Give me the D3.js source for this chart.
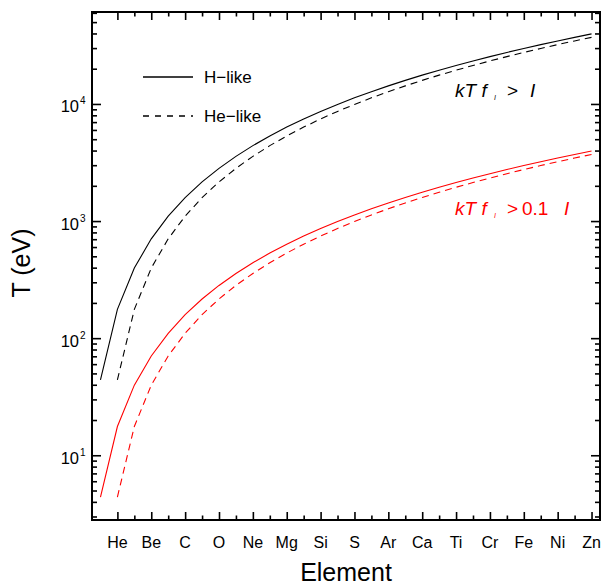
<!DOCTYPE html>
<html>
<head>
<meta charset="utf-8">
<script src="https://cdn.jsdelivr.net/npm/d3@7"></script>
<style>
  body { margin: 0; background: #fff; }
  svg { display: block; font-family: "Liberation Sans", Arial, Helvetica, sans-serif; }
</style>
</head>
<body>
<svg id="chart" width="613" height="585"></svg>
<script>
// ---- data ----
const elementLabels = ["He","Be","C","O","Ne","Mg","Si","S","Ar","Ca","Ti","Cr","Fe","Ni","Zn"];
const elementZ = [2,4,6,8,10,12,14,16,18,20,22,24,26,28,30];
const zH = d3.range(1, 31);   // Z = 1..30
const zHe = d3.range(2, 31);  // Z = 2..30
const hLike = [44,176,397,705,1101,1586,2159,2820,3569,4406,5331,6345,7446,8636,9914,11279,12733,14275,15906,17624,19430,21325,23308,25379,27538,29785,32120,34543,37055,39654];
const heLike = [44,176,397,705,1101,1586,2159,2820,3569,4406,5331,6345,7446,8636,9914,11279,12733,14275,15906,17624,19430,21325,23308,25379,27538,29785,32120,34543,37055];
const hLikeTenth = [4.4,17.6,39.7,70.5,110,159,216,282,357,441,533,635,745,864,991,1128,1273,1428,1591,1762,1943,2133,2331,2538,2754,2979,3212,3454,3706,3965];
const heLikeTenth = [4.4,17.6,39.7,70.5,110,159,216,282,357,441,533,635,745,864,991,1128,1273,1428,1591,1762,1943,2133,2331,2538,2754,2979,3212,3454,3706];
const yMajorExp = [1,2,3,4];

// ---- layout ----
const L = 92, R = 600, T = 12, B = 520;
const svg = d3.select("#chart");
const x = d3.scaleLinear().domain([0.5, 30.5]).range([L, R]);
const y = d3.scaleLog().domain([2.8, 61000]).range([B, T]);

// ---- curves ----
const line = d3.line().x(d => x(d[0])).y(d => y(d[1]));
const series = [
  {z: zH,  v: hLike,       color: "#000", dash: null},
  {z: zHe, v: heLike,      color: "#000", dash: "7,5"},
  {z: zH,  v: hLikeTenth,  color: "#ff0000", dash: null},
  {z: zHe, v: heLikeTenth, color: "#ff0000", dash: "7,5"}
];
series.forEach(s => {
  svg.append("path")
    .datum(s.z.map((z, i) => [z, s.v[i]]))
    .attr("d", line)
    .attr("fill", "none")
    .attr("stroke", s.color)
    .attr("stroke-width", 1.1)
    .attr("stroke-dasharray", s.dash);
});

// ---- axes (ticks pointing inward) ----
const minorZ = d3.range(3, 30, 2);
const yMinor = [];
for (let e = 0; e <= 4; e++) for (let m = 2; m <= 9; m++) {
  const v = m * Math.pow(10, e);
  if (v >= 2.8 && v <= 61000) yMinor.push(v);
}
const yMajor = yMajorExp.map(e => Math.pow(10, e));

function styleAxis(g) {
  g.select(".domain").remove();
  g.selectAll(".tick line").attr("stroke", "#000").attr("stroke-width", 1.6);
  g.selectAll(".tick text").remove();
}
// bottom
svg.append("g").attr("transform", `translate(0,${B})`)
  .call(d3.axisBottom(x).tickValues(elementZ).tickSize(-8)).call(styleAxis);
svg.append("g").attr("transform", `translate(0,${B})`)
  .call(d3.axisBottom(x).tickValues(minorZ).tickSize(-4.5)).call(styleAxis);
// top
svg.append("g").attr("transform", `translate(0,${T})`)
  .call(d3.axisTop(x).tickValues(elementZ).tickSize(-8)).call(styleAxis);
svg.append("g").attr("transform", `translate(0,${T})`)
  .call(d3.axisTop(x).tickValues(minorZ).tickSize(-4.5)).call(styleAxis);
// left
svg.append("g").attr("transform", `translate(${L},0)`)
  .call(d3.axisLeft(y).tickValues(yMajor).tickSize(-9)).call(styleAxis);
svg.append("g").attr("transform", `translate(${L},0)`)
  .call(d3.axisLeft(y).tickValues(yMinor).tickSize(-5)).call(styleAxis);
// right
svg.append("g").attr("transform", `translate(${R},0)`)
  .call(d3.axisRight(y).tickValues(yMajor).tickSize(-9)).call(styleAxis);
svg.append("g").attr("transform", `translate(${R},0)`)
  .call(d3.axisRight(y).tickValues(yMinor).tickSize(-5)).call(styleAxis);

// frame
svg.append("rect").attr("x", L).attr("y", T).attr("width", R - L).attr("height", B - T)
  .attr("fill", "none").attr("stroke", "#000").attr("stroke-width", 2);

// x tick labels
svg.append("g").selectAll("text").data(elementLabels).join("text")
  .attr("x", (d, i) => x(elementZ[i]))
  .attr("y", 548)
  .attr("text-anchor", "middle")
  .attr("font-size", 16)
  .text(d => d);

// y tick labels 10^n
yMajorExp.forEach(e => {
  svg.append("text")
    .attr("x", 79).attr("y", y(Math.pow(10, e)) + 8.5)
    .attr("text-anchor", "end")
    .attr("font-size", 16.5)
    .text("10");
  svg.append("text")
    .attr("x", 80).attr("y", y(Math.pow(10, e)) + 0.5)
    .attr("font-size", 10)
    .text(e);
});

// axis titles
svg.append("text").attr("x", (L + R) / 2).attr("y", 581)
  .attr("text-anchor", "middle").attr("font-size", 25).text("Element");
svg.append("text")
  .attr("transform", `translate(30,${(T + B) / 2 - 3}) rotate(-90)`)
  .attr("text-anchor", "middle").attr("font-size", 25).text("T (eV)");

// legend
const legend = [
  {label: "H\u2212like", dash: null, y: 77},
  {label: "He\u2212like", dash: "6,6", y: 116}
];
legend.forEach(l => {
  svg.append("line").attr("x1", 143).attr("x2", 193).attr("y1", l.y).attr("y2", l.y)
    .attr("stroke", "#000").attr("stroke-width", 1.4).attr("stroke-dasharray", l.dash);
  svg.append("text").attr("x", 204).attr("y", l.y + 6).attr("font-size", 17).text(l.label);
});

// annotations
function annot(yb, color, rhs) {
  svg.append("text").attr("x", 455).attr("y", yb).attr("font-size", 19)
    .attr("font-style", "italic").attr("fill", color).text("kT f");
  svg.append("text").attr("x", 494).attr("y", yb + 3).attr("font-size", 7)
    .attr("font-style", "italic").attr("fill", color).text("I");
  if (rhs === ">") {
    svg.append("text").attr("x", 507).attr("y", yb).attr("font-size", 19)
      .attr("fill", color).text(">");
    svg.append("text").attr("x", 530).attr("y", yb).attr("font-size", 19)
      .attr("font-style", "italic").attr("fill", color).text("I");
  } else {
    svg.append("text").attr("x", 507).attr("y", yb).attr("font-size", 19)
      .attr("fill", color).text(">");
    svg.append("text").attr("x", 522).attr("y", yb).attr("font-size", 19)
      .attr("fill", color).text("0.1");
    svg.append("text").attr("x", 564).attr("y", yb).attr("font-size", 19)
      .attr("font-style", "italic").attr("fill", color).text("I");
  }
}
annot(97, "#000", ">");
annot(215, "#ff0000", "0.1");
</script>
</body>
</html>
